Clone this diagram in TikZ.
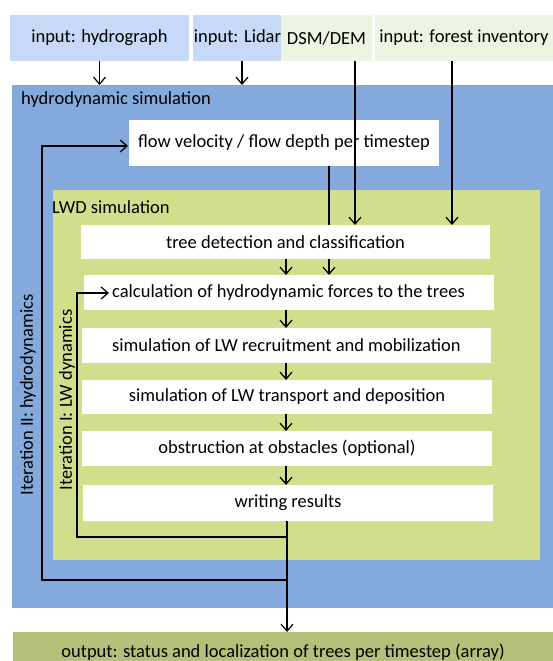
\documentclass[tikz,border=0pt]{standalone}
\usepackage{fontspec}
\setmainfont{Carlito}
\usetikzlibrary{arrows.meta}
\definecolor{inblue}{HTML}{C6D9F7}
\definecolor{ingreen}{HTML}{EBF5E1}
\definecolor{hydroblue}{HTML}{84A9DC}
\definecolor{lwdgreen}{HTML}{D1DE8C}
\definecolor{outgreen}{HTML}{B4C077}
\begin{document}
\begin{tikzpicture}[x=1pt,y=-1pt,
  font=\fontsize{18.5}{22}\selectfont,
  area/.style={draw=none, inner sep=0pt, outer sep=0pt},
  wbox/.style={area, fill=white},
  conn/.style={line width=1.2pt, -{Straight Barb[length=7pt,width=12pt]}},
  plain/.style={line width=1.2pt},
  lbl/.style={inner sep=0pt, anchor=west}]
\useasboundingbox (0,0) rectangle (553,661);
\fill[white] (0,0) rectangle (553,661);

% inputs
\node[area, fill=inblue, minimum width=179, minimum height=46] (ihyd) at (99.5,38) {input: hydrograph};
\node[area, fill=inblue, minimum width=89, minimum height=46] (ilid) at (237.5,38) {input: Lidar};
\node[area, fill=ingreen, minimum width=91, minimum height=46] (idsm) at (326.5,38) {DSM/DEM};
\node[area, fill=ingreen, minimum width=178, minimum height=46] (ifor) at (464,38) {input: forest inventory};

% hydrodynamic simulation
\node[area, fill=hydroblue, minimum width=541, minimum height=523] (hydro) at (282.5,346.5) {};
\node[lbl] (hydrolbl) at (21,100) {hydrodynamic simulation};
\node[wbox, minimum width=310, minimum height=46] (flow) at (284,143) {flow velocity / flow depth per timestep};

% LWD simulation
\node[area, fill=lwdgreen, minimum width=487, minimum height=370] (lwd) at (296.5,375) {};
\node[lbl] (lwdlbl) at (52,207) {LWD simulation};

\node[wbox, minimum width=409, minimum height=34] (tree) at (285.5,242) {tree detection and classification};
\node[wbox, minimum width=410, minimum height=35] (calc) at (288.5,292.5) {calculation of hydrodynamic forces to the trees};
\node[wbox, minimum width=409, minimum height=35] (recr) at (286.5,345.5) {simulation of LW recruitment and mobilization};
\node[wbox, minimum width=410, minimum height=34] (trans) at (287,397) {simulation of LW transport and deposition};
\node[wbox, minimum width=410, minimum height=35] (obst) at (287,448.5) {obstruction at obstacles (optional)};
\node[wbox, minimum width=410, minimum height=36] (write) at (288,503) {writing results};

% iteration labels
\node[rotate=90, inner sep=0pt] (it2) at (28,395) {Iteration II: hydrodynamics};
\node[rotate=90, inner sep=0pt] (it1) at (67,400) {Iteration I: LW dynamics};

% output
\node[area, fill=outgreen, minimum width=540, minimum height=40] (out) at (283,652) {output: status and localization of trees per timestep (array)};

% input connectors
\draw[conn] (ihyd.south) -- (ihyd.south |- hydro.north);
\draw[conn] (242,0 |- ilid.south) -- (242,0 |- hydro.north);
\draw[conn] (355,0 |- idsm.south) -- (355,0 |- tree.north);
\draw[conn] (452,0 |- ifor.south) -- (452,0 |- tree.north);
\draw[plain] (329,0 |- flow.south) -- (329,0 |- tree.north);

% chain
\draw[conn] (286,0 |- tree.south) -- (286,0 |- calc.north);
\draw[conn] (329,0 |- tree.south) -- (329,0 |- calc.north);
\draw[conn] (286,0 |- calc.south) -- (286,0 |- recr.north);
\draw[conn] (286,0 |- recr.south) -- (286,0 |- trans.north);
\draw[conn] (286,0 |- trans.south) -- (286,0 |- obst.north);
\draw[conn] (286,0 |- obst.south) -- (286,0 |- write.north);
\draw[conn] (287,0 |- write.south) -- (287,0 |- out.north);

% loops
\coordinate (j1) at (287,537);
\coordinate (c1) at (109,293);
\draw[conn] (j1) -- (77,537) -- (77,293) -- (c1);
\coordinate (j2) at (287,580);
\coordinate (f1) at (128,146);
\draw[conn] (j2) -- (42,580) -- (42,146) -- (f1);
\end{tikzpicture}
\end{document}
